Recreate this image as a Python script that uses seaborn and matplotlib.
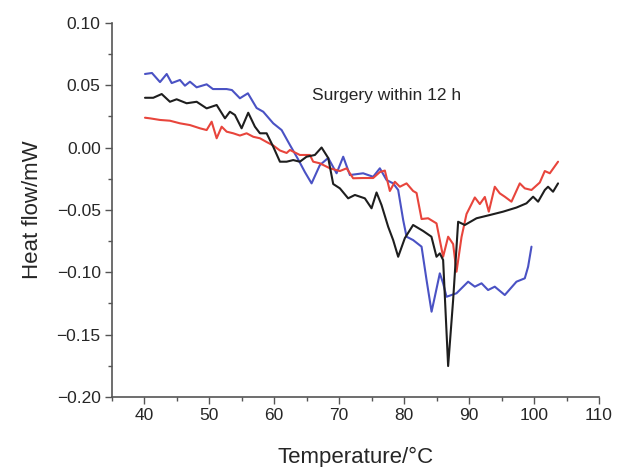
import pandas as pd
import matplotlib.pyplot as plt
import seaborn as sns

# Kurven (Temperatur in °C, Wärmefluss in mW)
blue_t = [40.11, 41.18, 42.42, 43.45, 44.22, 45.49, 46.26, 47.03, 48.06, 49.60,
          50.57, 52.68, 53.49, 54.72, 55.95, 57.29, 58.31, 59.85, 61.14, 62.42,
          63.65, 64.72, 65.75, 67.03, 68.31, 69.60, 70.62, 71.65, 73.69, 75.23,
          76.26, 77.29, 78.31, 79.08, 79.85, 80.37, 81.38, 82.68, 83.45, 84.22,
          84.72, 85.49, 86.00, 86.52, 88.06, 89.85, 90.88, 91.91, 92.92, 93.95,
          95.49, 97.29, 98.57, 99.08, 99.60]
blue_hf = [0.0591, 0.0599, 0.0526, 0.0591, 0.0518, 0.0543, 0.0497, 0.0529, 0.0484, 0.0508,
           0.0470, 0.0470, 0.0462, 0.0396, 0.0436, 0.0318, 0.0288, 0.0195, 0.0141, 0.0021,
           -0.0091, -0.0196, -0.0287, -0.0140, -0.0083, -0.0206, -0.0073, -0.0220, -0.0206, -0.0234,
           -0.0166, -0.0260, -0.0287, -0.0340, -0.0581, -0.0715, -0.0742, -0.0795, -0.1063, -0.1317,
           -0.1197, -0.1009, -0.1089, -0.1197, -0.1169, -0.1076, -0.1116, -0.1089, -0.1143, -0.1116,
           -0.1183, -0.1076, -0.1049, -0.0956, -0.0795]

black_t = [40.11, 41.38, 42.68, 43.95, 44.98, 46.52, 48.06, 49.60, 51.14, 52.42,
           53.18, 53.95, 54.98, 56.00, 57.03, 57.80, 58.83, 59.85, 60.88, 61.91,
           62.92, 63.95, 64.98, 66.26, 67.29, 68.31, 69.08, 70.11, 71.38, 72.42,
           73.95, 74.98, 75.75, 76.52, 77.54, 78.31, 79.08, 80.11, 81.38, 82.92,
           84.20, 84.98, 85.49, 86.00, 86.77, 87.54, 88.31, 89.34, 91.14, 93.18,
           95.23, 97.29, 98.83, 99.85, 100.62, 101.65, 102.15, 102.92, 103.69]
black_hf = [0.0400, 0.0400, 0.0430, 0.0368, 0.0388, 0.0356, 0.0368, 0.0315, 0.0342, 0.0235,
            0.0288, 0.0262, 0.0155, 0.0280, 0.0168, 0.0115, 0.0115, 0.0007, -0.0113, -0.0113,
            -0.0100, -0.0113, -0.0073, -0.0059, 0.0001, -0.0083, -0.0292, -0.0327, -0.0407, -0.0380,
            -0.0407, -0.0487, -0.0360, -0.0461, -0.0635, -0.0742, -0.0876, -0.0726, -0.0621, -0.0669,
            -0.0715, -0.0876, -0.0849, -0.0902, -0.1753, -0.1223, -0.0595, -0.0621, -0.0567, -0.0541,
            -0.0514, -0.0481, -0.0447, -0.0394, -0.0434, -0.0340, -0.0314, -0.0354, -0.0287]

red_t = [40.11, 40.88, 42.42, 43.95, 45.49, 47.03, 48.57, 49.60, 50.37, 51.14,
         51.91, 52.68, 53.69, 54.72, 55.75, 56.78, 57.80, 58.83, 59.85, 60.88,
         61.91, 62.42, 63.95, 65.49, 66.00, 67.03, 68.57, 70.11, 71.14, 72.15,
         73.69, 75.23, 76.26, 77.03, 77.80, 78.57, 79.34, 80.37, 81.38, 81.91,
         82.68, 83.69, 84.98, 86.00, 86.77, 87.54, 88.06, 88.83, 89.60, 90.37,
         90.88, 91.65, 92.42, 93.03, 93.95, 94.72, 95.49, 96.52, 97.80, 98.57,
         99.60, 100.88, 101.65, 102.42, 103.69]
red_hf = [0.0240, 0.0235, 0.0222, 0.0216, 0.0195, 0.0181, 0.0155, 0.0141, 0.0208, 0.0075,
          0.0168, 0.0128, 0.0115, 0.0097, 0.0115, 0.0087, 0.0075, 0.0045, 0.0017, -0.0023,
          -0.0043, -0.0019, -0.0059, -0.0059, -0.0113, -0.0126, -0.0166, -0.0188, -0.0166, -0.0246,
          -0.0244, -0.0244, -0.0196, -0.0184, -0.0348, -0.0274, -0.0314, -0.0287, -0.0348, -0.0364,
          -0.0573, -0.0567, -0.0608, -0.0876, -0.0715, -0.0774, -0.0996, -0.0718, -0.0533, -0.0453,
          -0.0400, -0.0453, -0.0396, -0.0514, -0.0314, -0.0367, -0.0394, -0.0434, -0.0287, -0.0327,
          -0.0340, -0.0280, -0.0188, -0.0206, -0.0113]

x_ticks = [40, 50, 60, 70, 80, 90, 100, 110]
y_ticks = [-0.20, -0.15, -0.10, -0.05, 0.00, 0.05, 0.10]

sns.set_style("ticks")
plt.rcParams['font.family'] = ['Liberation Sans', 'DejaVu Sans']

df = pd.concat([
    pd.DataFrame({"t": blue_t, "hf": blue_hf, "kurve": "blau"}),
    pd.DataFrame({"t": red_t, "hf": red_hf, "kurve": "rot"}),
    pd.DataFrame({"t": black_t, "hf": black_hf, "kurve": "schwarz"}),
])

fig = plt.figure(figsize=(6.44, 4.67), dpi=100)
ax = fig.add_axes([0.1736, 0.1503, 0.7566, 0.8004])

sns.lineplot(data=df, x="t", y="hf", hue="kurve", units="kurve", estimator=None, sort=False,
             palette={"blau": "#4a52c4", "rot": "#e8453c", "schwarz": "#1e1e1e"},
             linewidth=1.5, legend=False, ax=ax)

ax.set_xlim(35, 110)
ax.set_ylim(-0.20, 0.10)
ax.set_xticks(x_ticks)
ax.set_yticks(y_ticks)
ax.set_xticks(range(35, 111, 5), minor=True)
ax.set_yticks([-0.175, -0.125, -0.075, -0.025, 0.025, 0.075], minor=True)
ax.set_yticklabels([f"{v:.2f}".replace("-", "\u2212") for v in y_ticks])
ax.tick_params(which="major", length=5, width=1, color="#555555", labelsize=12.5, pad=3)
ax.tick_params(which="minor", length=3, width=1, color="#555555")

sns.despine(ax=ax)
for s in ["left", "bottom"]:
    ax.spines[s].set_color("#555555")
    ax.spines[s].set_linewidth(1.2)

ax.set_xlabel("Temperature/°C", fontsize=16, labelpad=17)
ax.set_ylabel("Heat flow/mW", fontsize=16, labelpad=10)

ax.text(65.8, 0.042, "Surgery within 12 h", fontsize=12.5, va="center", ha="left")

fig.savefig("out.png", dpi=100)
